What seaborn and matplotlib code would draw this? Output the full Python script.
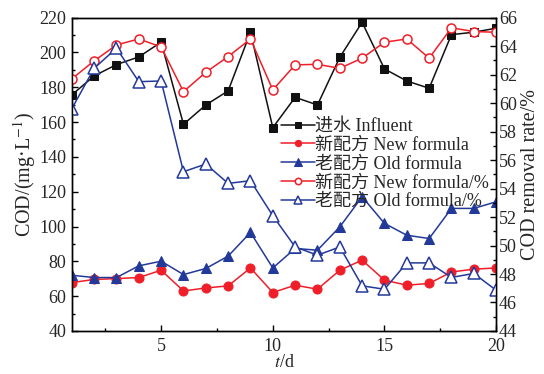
import numpy as np
import pandas as pd
import matplotlib
matplotlib.use("Agg")
import matplotlib.pyplot as plt
import seaborn as sns
from matplotlib.ticker import MultipleLocator

days = list(range(1, 21))
influent = [175.6, 186.5, 193.0, 197.4, 205.9, 158.7, 169.8, 177.9, 211.6, 156.8,
            174.2, 169.8, 197.2, 217.3, 190.5, 183.6, 179.4, 210.2, 211.6, 213.9]
new_cod = [67.8, 69.6, 70.1, 70.7, 74.9, 63.0, 64.7, 65.9, 76.2, 62.1,
           66.3, 64.0, 74.9, 80.7, 69.2, 66.3, 67.3, 73.9, 75.5, 76.2]
old_cod = [72.0, 70.7, 70.7, 77.4, 80.1, 72.4, 75.9, 83.0, 96.6, 76.2,
           87.4, 86.4, 99.8, 117.1, 101.8, 95.0, 93.1, 110.4, 110.4, 114.2]
new_rate = [61.7, 62.96, 64.08, 64.5, 63.94, 60.8, 62.16, 63.26, 64.5, 60.92,
            62.68, 62.72, 62.44, 63.15, 64.27, 64.5, 63.15, 65.28, 65.02, 64.97]
old_rate = [59.6, 62.44, 63.85, 61.5, 61.55, 55.18, 55.72, 54.36, 54.55, 52.09,
            49.9, 49.32, 49.9, 47.17, 46.93, 48.78, 48.78, 47.76, 48.04, 46.86]

labels = ["进水 Influent", "新配方 New formula", "老配方 Old formula",
          "新配方 New formula/%", "老配方 Old formula/%"]

sns.set_theme(style="ticks")
plt.rcParams['font.family'] = ['Liberation Serif', 'Noto Sans CJK SC']
plt.rcParams['mathtext.fontset'] = 'stix'

RED = "#f01e28"
BLUE = "#23399a"
BLACK = "#111111"

fig = plt.figure(figsize=(5.44, 3.74), dpi=100)
ax = fig.add_axes([0.132, 0.115, 0.780, 0.838])
ax2 = ax.twinx()

df = pd.DataFrame({"day": days, "inf": influent, "new": new_cod, "old": old_cod,
                   "nr": new_rate, "or": old_rate})

lw = 1.1
sns.lineplot(data=df, x="day", y="inf", ax=ax, color=BLACK, marker="s", markersize=5.5,
             markeredgecolor=BLACK, linewidth=lw, legend=False)
sns.lineplot(data=df, x="day", y="new", ax=ax, color=RED, marker="o", markersize=6.5,
             markeredgecolor=RED, linewidth=lw, legend=False)
sns.lineplot(data=df, x="day", y="old", ax=ax, color=BLUE, marker="^", markersize=7.5,
             markeredgecolor=BLUE, linewidth=lw, legend=False)
sns.lineplot(data=df, x="day", y="nr", ax=ax2, color=RED, marker="o", markersize=6.5,
             markerfacecolor="white", markeredgecolor=RED, markeredgewidth=1.1,
             linewidth=lw, legend=False)
sns.lineplot(data=df, x="day", y="or", ax=ax2, color=BLUE, marker="^", markersize=8,
             markerfacecolor="white", markeredgecolor=BLUE, markeredgewidth=1.1,
             linewidth=lw, legend=False)

ax.set_xlim(1, 20)
ax.set_ylim(40, 220)
ax2.set_ylim(44, 66)
ax.xaxis.set_major_locator(MultipleLocator(5))
ax.xaxis.set_minor_locator(MultipleLocator(2.5))
ax.yaxis.set_major_locator(MultipleLocator(20))
ax.yaxis.set_minor_locator(MultipleLocator(10))
ax2.yaxis.set_major_locator(MultipleLocator(2))
ax2.yaxis.set_minor_locator(MultipleLocator(1))

fs = 13
for a in (ax, ax2):
    a.tick_params(which="both", direction="in", labelsize=fs, color="black", width=1)
    a.tick_params(which="major", length=4)
    a.tick_params(which="minor", length=2.5)
    for s in a.spines.values():
        s.set_color("black")
        s.set_linewidth(1)
ax.tick_params(axis="x", pad=5)
ax.tick_params(axis="y", pad=4)
ax2.tick_params(axis="y", pad=2)

ax.set_xlabel("$t$/d", fontsize=fs, labelpad=-1)
ax.set_ylabel("COD/(mg·L$^{-1}$)", fontsize=14.5, labelpad=1)
ax2.set_ylabel("COD removal rate/%", fontsize=14.5, labelpad=3)

handles = ax.get_lines()[:3] + ax2.get_lines()[:2]
leg = ax2.legend(handles, labels, loc="upper left", bbox_to_anchor=(0.463, 0.72),
                 frameon=False, fontsize=fs, handlelength=1.9, handletextpad=0.0,
                 labelspacing=0.1, borderpad=0.2, markerscale=0.7)

fig.savefig("out.png", dpi=100)
